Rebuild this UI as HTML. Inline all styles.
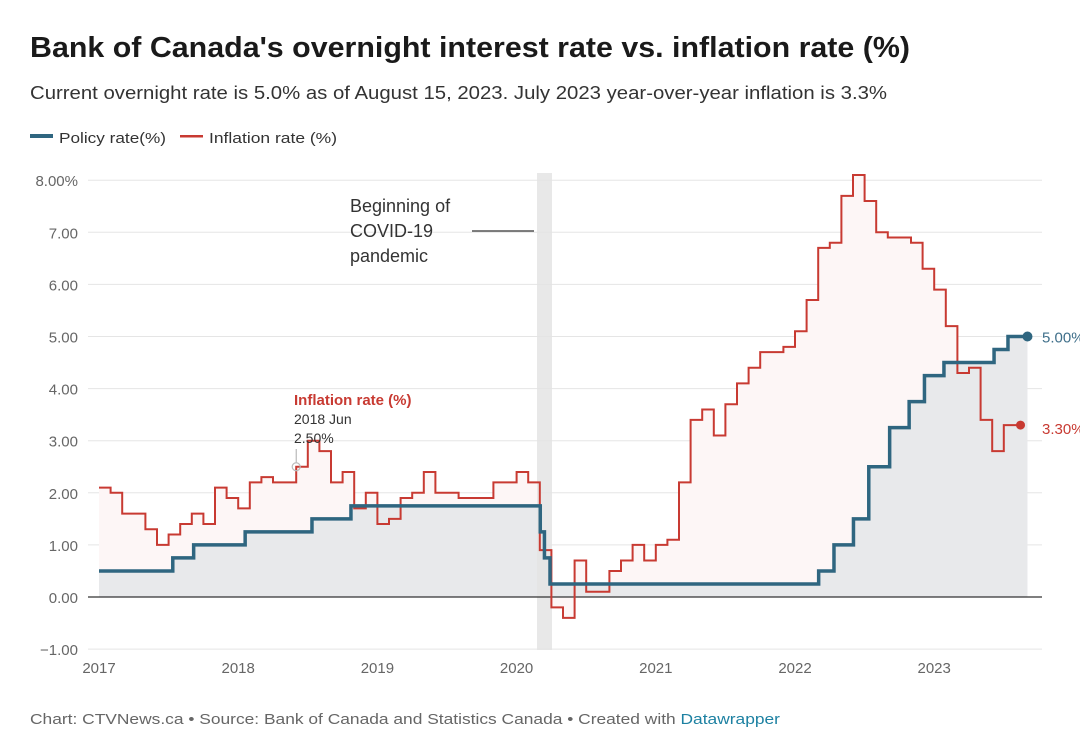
<!DOCTYPE html>
<html><head><meta charset="utf-8">
<style>
body{margin:0;background:#fff;width:1080px;height:742px;overflow:hidden;font-family:"Liberation Sans",sans-serif;}
svg text{font-family:"Liberation Sans",sans-serif;}
</style></head>
<body>
<svg id="chart" width="1080" height="742" xmlns="http://www.w3.org/2000/svg">
<text x="30" y="57" font-size="29" font-weight="bold" fill="#1a1a1a" textLength="880" lengthAdjust="spacingAndGlyphs">Bank of Canada's overnight interest rate vs. inflation rate (%)</text>
<text x="30" y="99" font-size="18" fill="#333" textLength="857" lengthAdjust="spacingAndGlyphs">Current overnight rate is 5.0% as of August 15, 2023. July 2023 year-over-year inflation is 3.3%</text>
<g>
<rect x="30" y="134" width="23" height="4" fill="#2f6680"/>
<text x="59" y="143" font-size="15" fill="#333" textLength="107" lengthAdjust="spacingAndGlyphs">Policy rate(%)</text>
<rect x="180" y="135" width="23" height="2.5" fill="#c83a32"/>
<text x="209" y="143" font-size="15" fill="#333" textLength="128" lengthAdjust="spacingAndGlyphs">Inflation rate (%)</text>
</g>
<g id="plot"></g>
<text x="30" y="724" font-size="15" fill="#666" textLength="750" lengthAdjust="spacingAndGlyphs">Chart: CTVNews.ca • Source: Bank of Canada and Statistics Canada • Created with <tspan fill="#1d81a2">Datawrapper</tspan></text>
</svg>
<script>
const yTicks=[8,7,6,5,4,3,2,1,0,-1];
const yTickLabels=["8.00%","7.00","6.00","5.00","4.00","3.00","2.00","1.00","0.00","−1.00"];
const xYears=[2017,2018,2019,2020,2021,2022,2023];
const inflation=[2.1,2.0,1.6,1.6,1.3,1.0,1.2,1.4,1.6,1.4,2.1,1.9,
1.7,2.2,2.3,2.2,2.2,2.5,3.0,2.8,2.2,2.4,1.7,2.0,
1.4,1.5,1.9,2.0,2.4,2.0,2.0,1.9,1.9,1.9,2.2,2.2,
2.4,2.2,0.9,-0.2,-0.4,0.7,0.1,0.1,0.5,0.7,1.0,0.7,
1.0,1.1,2.2,3.4,3.6,3.1,3.7,4.1,4.4,4.7,4.7,4.8,
5.1,5.7,6.7,6.8,7.7,8.1,7.6,7.0,6.9,6.9,6.8,6.3,
5.9,5.2,4.3,4.4,3.4,2.8,3.3];
const policyDates=[2017.0,2017.53,2017.68,2018.05,2018.53,2018.81,2020.17,2020.2,2020.24,2022.17,2022.28,2022.42,2022.53,2022.68,2022.82,2022.93,2023.07,2023.43,2023.53,2023.67];
const policyRates=[0.5,0.75,1.0,1.25,1.5,1.75,1.25,0.75,0.25,0.5,1.0,1.5,2.5,3.25,3.75,4.25,4.5,4.75,5.0,5.0];
const inflEnd=2023.62;
const X=t=>99+(t-2017)*139.2;
const Y=v=>597-v*52.1;
const ns="http://www.w3.org/2000/svg";
const g=document.getElementById('plot');
function mk(tag,attrs){const e=document.createElementNS(ns,tag);for(const k in attrs)e.setAttribute(k,attrs[k]);g.appendChild(e);return e;}
yTicks.forEach((v,i)=>{
 if(v!==0){const l=mk('line',{x1:88,x2:1042,y1:Y(v),y2:Y(v),stroke:'#e5e5e5','stroke-width':1});
 
 }
 const t=mk('text',{x:78,y:Y(v)+6,'text-anchor':'end','font-size':15,fill:'#666'});t.textContent=yTickLabels[i];
 
 
});
xYears.forEach(yr=>{
 const t=mk('text',{x:X(yr),y:673,'text-anchor':'middle','font-size':15,fill:'#666'});t.textContent=yr;
 
 
});
let ip='';inflation.forEach((v,i)=>{const t=2017+i/12;ip+=(i?'H'+X(t)+'V'+Y(v):'M'+X(t)+','+Y(v));});
ip+='H'+X(inflEnd);
const inflFill=mk('path',{d:ip+'V'+Y(0)+'H'+X(2017)+'Z',fill:'#fdf6f6'});


let pp='';policyDates.forEach((d,i)=>{pp+=(i?'H'+X(d)+'V'+Y(policyRates[i]):'M'+X(d)+','+Y(policyRates[i]));});
const polFill=mk('path',{d:pp+'V'+Y(0)+'H'+X(2017)+'Z',fill:'#e8e9eb'});


const band=mk('rect',{x:537,y:173,width:15,height:477,fill:'#e4e4e4',opacity:0.85});


const zl=mk('line',{x1:88,x2:1042,y1:Y(0),y2:Y(0),stroke:'#333','stroke-width':1.2});


const il=mk('path',{d:ip,fill:'none',stroke:'#c83a32','stroke-width':2});


const pl=mk('path',{d:pp,fill:'none',stroke:'#2f6680','stroke-width':3.5});


const pd=mk('circle',{cx:X(policyDates[policyDates.length-1]),cy:Y(policyRates[policyRates.length-1]),r:5,fill:'#2f6680'});


const id=mk('circle',{cx:X(inflEnd),cy:Y(inflation[inflation.length-1]),r:4.5,fill:'#c83a32'});


const pv=mk('text',{x:1042,y:Y(policyRates[policyRates.length-1])+6,'font-size':15,fill:'#3f6f8a'});pv.textContent=policyRates[policyRates.length-1].toFixed(2)+'%';


const iv=mk('text',{x:1042,y:Y(inflation[inflation.length-1])+9,'font-size':15,fill:'#c83a32'});iv.textContent=inflation[inflation.length-1].toFixed(2)+'%';


['Beginning of','COVID-19','pandemic'].forEach((s,i)=>{const t=mk('text',{x:350,y:212+i*25,'font-size':18,fill:'#333'});t.textContent=s;
 
 });
const cl=mk('line',{x1:472,x2:534,y1:231,y2:231,stroke:'#333','stroke-width':1.3});


const jx=X(2017+17/12),jy=Y(2.5);
const tl=mk('line',{x1:jx,x2:jx,y1:449,y2:jy-4,stroke:'#aaa','stroke-width':1});


const tc=mk('circle',{cx:jx,cy:jy,r:4,fill:'none',stroke:'#bbb','stroke-width':1.2});


const t1=mk('text',{x:294,y:405,'font-size':15,'font-weight':'bold',fill:'#c83a32'});t1.textContent='Inflation rate (%)';


const t2=mk('text',{x:294,y:424,'font-size':14,fill:'#333'});t2.textContent='2018 Jun';


const t3=mk('text',{x:294,y:443,'font-size':14,fill:'#333'});t3.textContent='2.50%';


</script>
</body></html>
